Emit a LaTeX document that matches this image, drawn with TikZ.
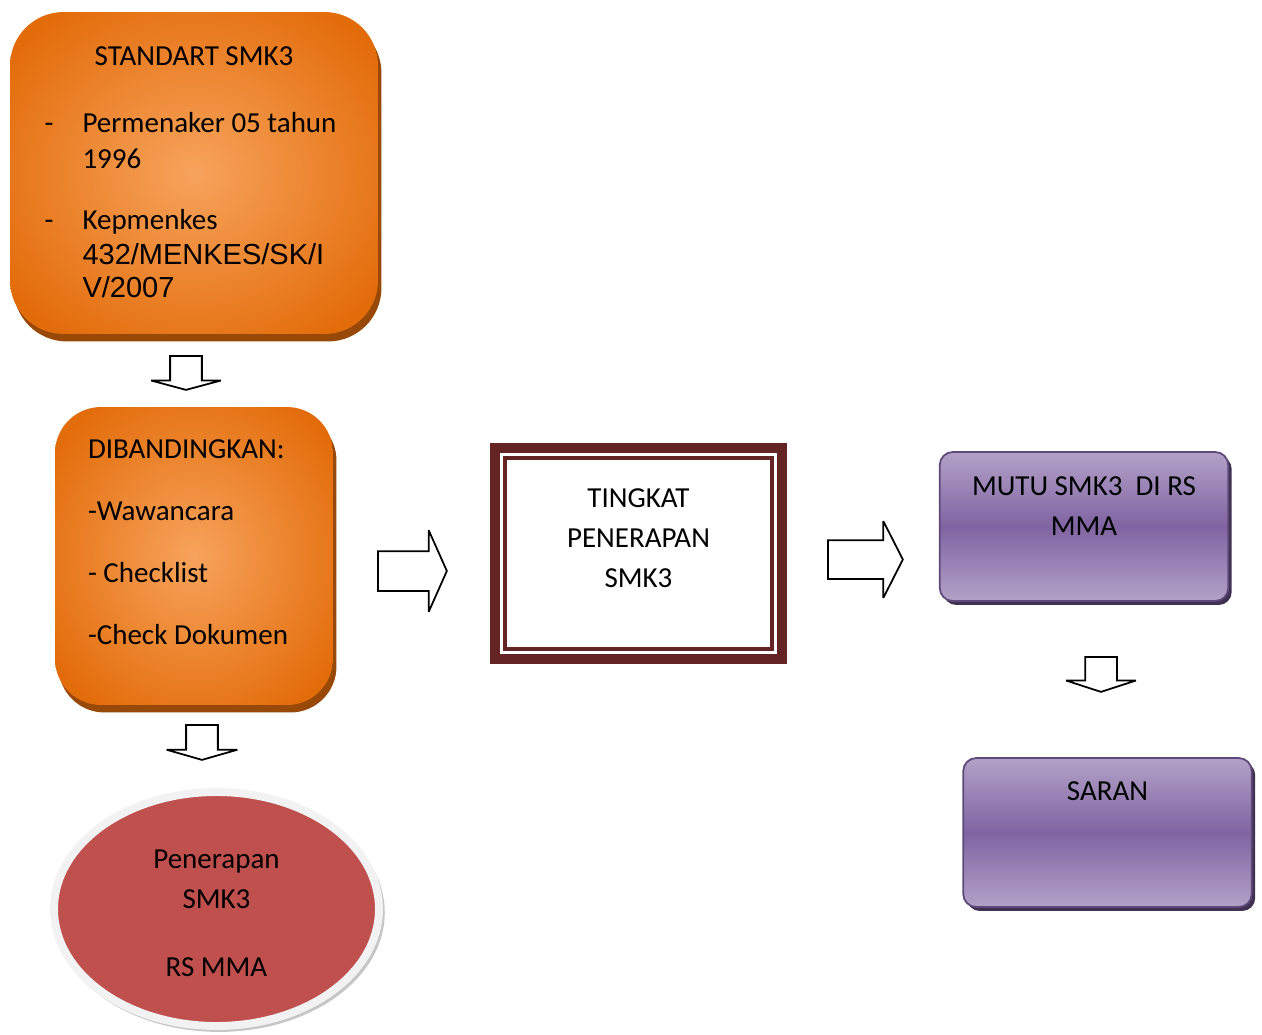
\documentclass[tikz,border=0pt]{standalone}
\usepackage{fontspec}
\setmainfont{Carlito}
\newfontfamily\arialfont{Liberation Sans}
\usetikzlibrary{shapes.geometric,shapes.arrows,shadows}

\definecolor{orin}{HTML}{F7A35C}
\definecolor{orout}{HTML}{E36C0A}
\definecolor{orshadow}{HTML}{984807}
\definecolor{redfill}{HTML}{C0504D}
\definecolor{rimgray}{HTML}{F2F2F2}
\definecolor{framebrown}{HTML}{632423}
\definecolor{purlight}{HTML}{B2A1C7}
\definecolor{purdark}{HTML}{8064A2}
\definecolor{purline}{HTML}{5F497A}
\definecolor{purshadow}{HTML}{3F3151}
\pgfdeclareradialshading{orangeglow}{\pgfpointorigin}{color(0bp)=(orin); color(31bp)=(orout); color(50bp)=(orout)}

\tikzset{
    orangebox/.style={rectangle, shade, shading=orangeglow, inner sep=0pt,
        drop shadow={shadow xshift=0.07cm, shadow yshift=-0.15cm, fill=orshadow, opacity=1}},
    purplebox/.style={rectangle, rounded corners=0.26cm, draw=purline, line width=1pt,
        top color=purlight, bottom color=purlight, middle color=purdark,
        minimum width=5.77cm, minimum height=2.98cm, inner sep=0pt,
        drop shadow={shadow xshift=0.07cm, shadow yshift=-0.08cm, fill=purshadow, opacity=1}},
    blockarrow/.style={single arrow, draw, fill=white, line width=1pt, miter limit=2, minimum width=0pt,
        inner xsep=0pt, text height=0pt, text depth=0pt, anchor=tail}
}

\begin{document}
\begin{tikzpicture}[x=0.02cm, y=-0.02cm, font=\fontsize{16.5}{20}\selectfont]
    \useasboundingbox (0,0) rectangle (1262,1035);

    % kolom kiri
    \node[orangebox, minimum width=7.36cm, minimum height=6.44cm, rounded corners=1.07cm] (std) at (194,173) {%
        \begin{tabular}{@{}p{0.76cm}@{}p{5.22cm}@{}}
        \multicolumn{2}{@{}c@{}}{\rule{0pt}{15.7pt}STANDART SMK3}\\[18pt]
        - & \mbox{Permenaker 05 tahun}\\[0.4pt]
          & 1996\\[15.1pt]
        - & Kepmenkes\\[-0.2pt]
          & {\arialfont 432/MENKES/SK/I}\\[-1.3pt]
          & {\arialfont V/2007}
        \end{tabular}};
    \node[orangebox, minimum width=5.56cm, minimum height=5.96cm, rounded corners=0.92cm] (cmp) at (194,556) {%
        \begin{tabular}{@{}p{4.24cm}@{}}
        DIBANDINGKAN:\\[15.3pt]
        -Wawancara\\[15.3pt]
        - Checklist\\[15.3pt]
        -Check Dokumen\\[13pt]
        \end{tabular}};
    \node[ellipse, fill=redfill, draw=rimgray, line width=4.5pt, minimum width=6.5cm, minimum height=4.68cm, inner sep=0pt,
        drop shadow={shadow xshift=0.05cm, shadow yshift=-0.07cm, shadow scale=1.02, fill=gray!45, opacity=1}] (ell) at (216.5,909) {%
        \begin{tabular}{@{}c@{}}
        \rule{0pt}{21.4pt}Penerapan\\[2.7pt]
        SMK3\\[19.1pt]
        RS MMA
        \end{tabular}};

    % tengah
    \node[draw=framebrown, line width=5.4pt, minimum width=5.75cm, minimum height=4.23cm, inner sep=0pt, outer sep=0pt] (tk) at (638.5,553.5) {%
        \begin{tabular}{@{}c@{}}
        TINGKAT\\[2.7pt]
        PENERAPAN\\[3.2pt]
        SMK3\\[14.8pt]
        \end{tabular}};
    \draw[framebrown, line width=2pt] ([shift={(0.2cm,-0.2cm)}]tk.north west) rectangle ([shift={(-0.2cm,0.2cm)}]tk.south east);

    % kanan
    \node[purplebox] (mutu) at (1084,526.5) {%
        \begin{tabular}{@{}c@{}}
        MUTU SMK3\ \ DI RS\\[2.7pt]
        MMA\\[21pt]
        \end{tabular}};
    \node[purplebox] (saran) at (1107.5,832.5) {%
        \begin{tabular}{@{}c@{}}
        SARAN\\[44.8pt]
        \end{tabular}};

    % panah
    \node[blockarrow, rotate=-90, minimum height=0.68cm, inner ysep=0.3cm, single arrow head extend=0.38cm, single arrow tip angle=150] (a1) at (186,355) {};
    \node[blockarrow, rotate=-90, minimum height=0.7cm, inner ysep=0.3cm, single arrow head extend=0.39cm, single arrow tip angle=148] (a2) at (202,724) {};
    \node[blockarrow, minimum height=1.38cm, inner ysep=0.38cm, single arrow head extend=0.42cm, single arrow tip angle=132] (r1) at (377,571) {};
    \node[blockarrow, minimum height=1.5cm, inner ysep=0.37cm, single arrow head extend=0.38cm, single arrow tip angle=126] (r2) at (827,559.5) {};
    \node[blockarrow, rotate=-90, minimum height=0.7cm, inner ysep=0.3cm, single arrow head extend=0.38cm, single arrow tip angle=144] (a3) at (1101,656) {};
\end{tikzpicture}
\end{document}
